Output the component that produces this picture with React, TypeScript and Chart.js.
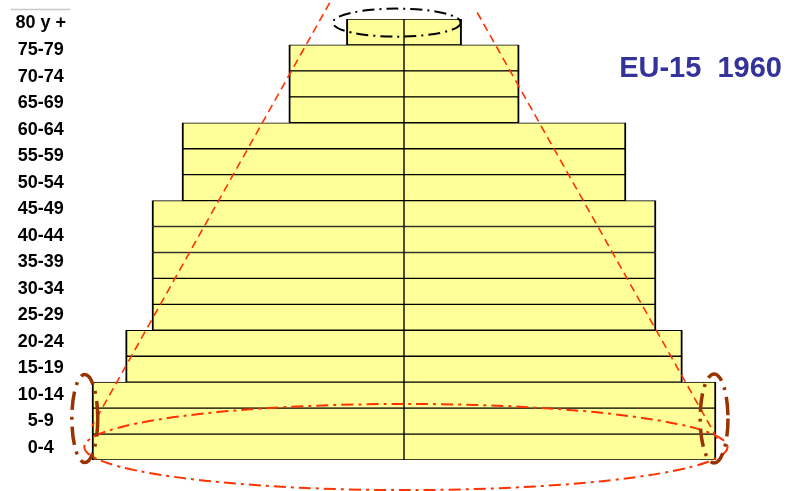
import React, { useEffect, useRef } from "react";
import { Chart, registerables } from "chart.js";

Chart.register(...registerables);

// Age groups, top of the pyramid first
const ageGroups = [
  "80 y +", "75-79", "70-74", "65-69", "60-64", "55-59", "50-54", "45-49",
  "40-44", "35-39", "30-34", "25-29", "20-24", "15-19", "10-14", "5-9", "0-4",
];
// Left half (men) and right half (women), schematic values (millions)
const leftValues = [2.4, 4.8, 4.8, 4.8, 9.25, 9.25, 9.25, 10.5, 10.5, 10.5, 10.5, 10.5, 11.6, 11.6, 13.0, 13.0, 13.0];
const rightValues = [2.4, 4.8, 4.8, 4.8, 9.25, 9.25, 9.25, 10.5, 10.5, 10.5, 10.5, 10.5, 11.6, 11.6, 13.0, 13.0, 13.0];
const titleText = "EU-15  1960";

const guidePlugin = {
  id: "guides",
  afterDatasetsDraw(chart: any) {
    const { ctx } = chart;
    const x = chart.scales.x;
    const y = chart.scales.y;
    const px = (v: number) => x.getPixelForValue(v);
    const py = (i: number) => y.getPixelForValue(i);
    const unitW = Math.abs(px(1) - px(0));
    const bandH = Math.abs(py(1) - py(0));
    const ellipse = (cx: number, cy: number, rx: number, ry: number, color: string, lw: number, dash: number[]) => {
      ctx.save();
      ctx.beginPath();
      ctx.setLineDash(dash);
      ctx.strokeStyle = color;
      ctx.lineWidth = lw;
      ctx.ellipse(px(cx), py(cy), rx * unitW, ry * bandH, 0, 0, Math.PI * 2);
      ctx.stroke();
      ctx.restore();
    };
    const line = (x1: number, y1: number, x2: number, y2: number, color: string, lw: number, dash: number[]) => {
      ctx.save();
      ctx.beginPath();
      ctx.setLineDash(dash);
      ctx.strokeStyle = color;
      ctx.lineWidth = lw;
      ctx.moveTo(px(x1), py(y1));
      ctx.lineTo(px(x2), py(y2));
      ctx.stroke();
      ctx.restore();
    };
    // red dashed envelope lines
    line(-3.1, -1.12, -13.0, 15.2, "#FF3300", 1.6, [8, 5]);
    line(3.05, -0.75, 13.1, 15.75, "#FF3300", 1.6, [8, 5]);
    // black dash-dot ellipse round the top
    ellipse(-0.3, -0.36, 2.66, 0.54, "#000000", 2, [12, 5, 2, 5]);
    // red dash-dot ellipse round the base
    ellipse(0.08, 16.0, 13.4, 1.66, "#FF3300", 2, [12, 5, 3, 5]);
    // brown dash-dot brackets at the base corners
    ellipse(-13.3, 14.9, 0.54, 1.7, "#993300", 3.5, [18, 7, 3, 7]);
    ellipse(12.92, 14.9, 0.58, 1.72, "#993300", 3.5, [18, 7, 3, 7]);
  },
  afterDraw(chart: any) {
    const { ctx } = chart;
    const ax = chart.scales.ageAxis;
    // faint rule above the label column
    ctx.save();
    ctx.strokeStyle = "#c8c8c8";
    ctx.lineWidth = 1.5;
    ctx.beginPath();
    ctx.moveTo(ax.left + 11, chart.chartArea.top - 9.5);
    ctx.lineTo(ax.right - 10, chart.chartArea.top - 9.5);
    ctx.stroke();
    ctx.restore();
    // title
    ctx.save();
    ctx.font = 'bold 29px "Liberation Sans", Arial, sans-serif';
    ctx.fillStyle = "#333399";
    ctx.textAlign = "right";
    ctx.textBaseline = "alphabetic";
    ctx.fillText(titleText, chart.width - 8, 77);
    ctx.restore();
  },
};

export default function App() {
  const canvasRef = useRef<HTMLCanvasElement | null>(null);

  useEffect(() => {
    document.body.style.margin = "0";
    const canvas = canvasRef.current;
    if (!canvas) return;
    const chart = new Chart(canvas, {
      type: "bar",
      data: {
        labels: ageGroups,
        datasets: [
          {
            label: "Men",
            data: leftValues.map((v) => -v),
            backgroundColor: "#FFFF99",
            borderColor: "#000000",
            borderWidth: { top: 1, bottom: 1, left: 2, right: 1 },
            borderSkipped: false,
            barPercentage: 1,
            categoryPercentage: 1,
            xAxisID: "x",
            yAxisID: "y",
          },
          {
            label: "Women",
            data: rightValues,
            backgroundColor: "#FFFF99",
            borderColor: "#000000",
            borderWidth: { top: 1, bottom: 1, left: 1, right: 2 },
            borderSkipped: false,
            barPercentage: 1,
            categoryPercentage: 1,
            xAxisID: "x",
            yAxisID: "y",
          },
        ],
      },
      options: {
        indexAxis: "y",
        animation: false,
        responsive: false,
        maintainAspectRatio: false,
        layout: { padding: { top: 19, bottom: 31, left: 0, right: 62 } },
        plugins: {
          legend: { display: false },
          tooltip: { enabled: false },
          title: { display: false },
        },
        scales: {
          x: {
            type: "linear",
            min: -13.5,
            max: 13.5,
            stacked: true,
            display: false,
          },
          y: {
            type: "category",
            stacked: true,
            display: false,
          },
          ageAxis: {
            type: "linear",
            axis: "y",
            position: "left",
            reverse: true,
            offset: false,
            bounds: "data",
            min: -0.17,
            max: 16.45,
            grid: { display: false, drawTicks: false, offset: false },
            border: { display: false },
            afterBuildTicks: (s: any) => {
              s.ticks = ageGroups.map((_, i) => ({ value: i }));
            },
            afterFit: (s: any) => {
              s.width = 80;
              s.paddingTop = 0;
              s.paddingBottom = 0;
            },
            ticks: {
              autoSkip: false,
              crossAlign: "center",
              padding: 14,
              color: "#000000",
              font: { family: '"Liberation Sans", Arial, sans-serif', size: 18, weight: "bold" },
              callback: (v: any) => ageGroups[v as number] ?? "",
            },
          },
        },
      },
      plugins: [guidePlugin],
    } as any);
    return () => chart.destroy();
  }, []);

  return (
    <div style={{ width: 790, height: 491, background: "#ffffff" }}>
      <canvas ref={canvasRef} width={790} height={491} style={{ display: "block" }} />
    </div>
  );
}
